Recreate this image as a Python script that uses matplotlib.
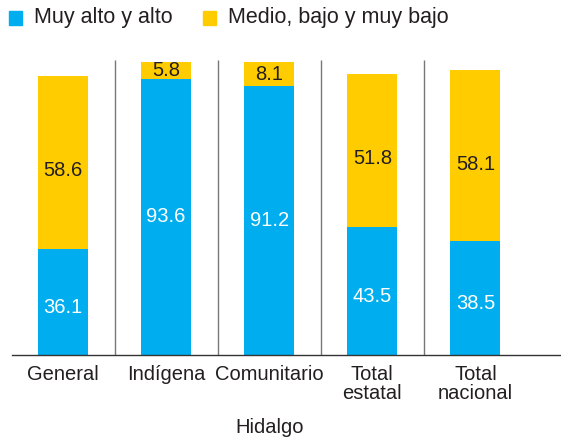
import matplotlib
matplotlib.use("Agg")
import matplotlib.pyplot as plt
from matplotlib.patches import Rectangle

categories = ["General", "Indígena", "Comunitario", "Total\nestatal", "Total\nnacional"]
alto = [36.1, 93.6, 91.2, 43.5, 38.5]
bajo = [58.6, 5.8, 8.1, 51.8, 58.1]
series_names = ["Muy alto y alto", "Medio, bajo y muy bajo"]
group_label = "Hidalgo"

BLUE = "#00AEEF"
YELLOW = "#FFCC00"
TXT = "#231F20"

plt.rcParams['font.family'] = ['Liberation Sans', 'DejaVu Sans']

fig = plt.figure(figsize=(5.61, 4.43), dpi=100)
ax = fig.add_axes([12/561, 1-355/443, 1-12/561, (355-60)/443])

x = list(range(len(categories)))
w = 0.485
ax.bar(x, alto, width=w, color=BLUE)
ax.bar(x, bajo, width=w, bottom=alto, color=YELLOW)

fs = 14.5
for i in x:
    # large segments have their labels set a little below the segment centre
    dy_a = -4 if alto[i] < 60 else 0
    dy_b = -6 if bajo[i] > 20 else 0
    ax.annotate(f"{alto[i]:.1f}", (i, alto[i]/2), xytext=(0, dy_a), textcoords="offset points",
                ha="center", va="center", color="white", fontsize=fs)
    ax.annotate(f"{bajo[i]:.1f}", (i, alto[i] + bajo[i]/2), xytext=(0, dy_b), textcoords="offset points",
                ha="center", va="center", color=TXT, fontsize=fs)

for i in range(len(categories)-1):
    ax.plot([i+0.5, i+0.5], [0, 100], color="#777777", lw=1.0, solid_capstyle="butt")

ax.set_xlim(-0.495, 4.83)
ax.set_ylim(0, 100)
for s in ["top", "right", "left"]:
    ax.spines[s].set_visible(False)
ax.spines["bottom"].set_color("#333333")
ax.spines["bottom"].set_linewidth(1.0)
ax.set_yticks([])
ax.set_xticks(x)
ax.set_xticklabels(categories, fontsize=fs, color=TXT, linespacing=1.0, va="top")
ax.tick_params(axis="x", length=0, pad=7)

fig.text(270/561, 1-433/443, group_label, ha="center", va="baseline", fontsize=fs, color=TXT)

# legend
sq = 13
for (px, tx, name, col) in [(9, 34, series_names[0], BLUE), (203, 228, series_names[1], YELLOW)]:
    fig.patches.append(Rectangle((px/561, 1-24.5/443), sq/561, sq/443, transform=fig.transFigure,
                                 color=col, figure=fig))
    fig.text(tx/561, 1-17.5/443, name, ha="left", va="center", fontsize=15.5, color=TXT)

fig.savefig("out.png", dpi=100)
